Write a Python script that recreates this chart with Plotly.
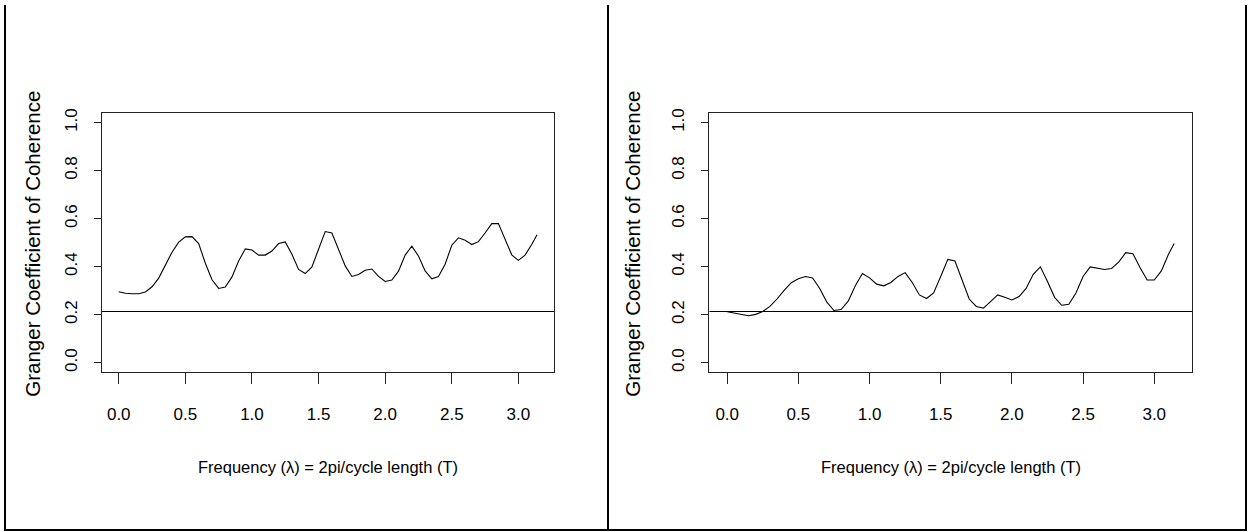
import plotly.graph_objects as go

W, H = 1249, 532

freq = [0.00, 0.05, 0.10, 0.15, 0.20, 0.25, 0.30, 0.35, 0.40, 0.45,
        0.50, 0.55, 0.60, 0.65, 0.70, 0.75, 0.80, 0.85, 0.90, 0.95,
        1.00, 1.05, 1.10, 1.15, 1.20, 1.25, 1.30, 1.35, 1.40, 1.45,
        1.50, 1.55, 1.60, 1.65, 1.70, 1.75, 1.80, 1.85, 1.90, 1.95,
        2.00, 2.05, 2.10, 2.15, 2.20, 2.25, 2.30, 2.35, 2.40, 2.45,
        2.50, 2.55, 2.60, 2.65, 2.70, 2.75, 2.80, 2.85, 2.90, 2.95,
        3.00, 3.05, 3.10, 3.14]

coh_left = [0.295, 0.289, 0.287, 0.287, 0.294, 0.316, 0.352, 0.403, 0.460, 0.502,
            0.524, 0.525, 0.496, 0.414, 0.345, 0.309, 0.315, 0.357, 0.423, 0.474,
            0.469, 0.448, 0.448, 0.465, 0.496, 0.503, 0.451, 0.388, 0.371, 0.399,
            0.471, 0.546, 0.540, 0.471, 0.403, 0.359, 0.367, 0.385, 0.390, 0.359,
            0.338, 0.344, 0.381, 0.448, 0.485, 0.444, 0.382, 0.349, 0.359, 0.410,
            0.489, 0.520, 0.510, 0.492, 0.504, 0.540, 0.579, 0.579, 0.513, 0.449,
            0.426, 0.448, 0.492, 0.533]

coh_right = [0.212, 0.206, 0.199, 0.195, 0.201, 0.213, 0.234, 0.265, 0.301, 0.333,
             0.349, 0.359, 0.353, 0.309, 0.252, 0.217, 0.221, 0.256, 0.320, 0.371,
             0.353, 0.327, 0.320, 0.334, 0.359, 0.375, 0.334, 0.282, 0.267, 0.290,
             0.359, 0.430, 0.423, 0.341, 0.265, 0.234, 0.227, 0.254, 0.282, 0.272,
             0.261, 0.275, 0.309, 0.368, 0.399, 0.338, 0.272, 0.239, 0.243, 0.290,
             0.359, 0.399, 0.393, 0.388, 0.392, 0.419, 0.458, 0.454, 0.396, 0.344,
             0.344, 0.382, 0.451, 0.496]

threshold = [0.213, 0.213]

x_ticks = [0.0, 0.5, 1.0, 1.5, 2.0, 2.5, 3.0]
x_labels = ["0.0", "0.5", "1.0", "1.5", "2.0", "2.5", "3.0"]
y_ticks = [0.0, 0.2, 0.4, 0.6, 0.8, 1.0]
y_labels = ["0.0", "0.2", "0.4", "0.6", "0.8", "1.0"]

y_title = "Granger Coefficient of Coherence"
x_title = "Frequency (\u03bb) = 2pi/cycle length (T)"

FONT = "Liberation Sans, Arial, Helvetica, sans-serif"

def px(x):
    return x / W

def py(y):
    return 1 - y / H

fig = go.Figure()

panels = [
    dict(x0=102.0, x1=554.0, data=coh_left, xa="x", ya="y", title_x=33, xt_c=328),
    dict(x0=709.3, x1=1192.3, data=coh_right, xa="x2", ya="y2", title_x=633, xt_c=951),
]
ytop, ybot = 109.0, 370.7
XR = [-0.1257, 3.2673]

for i, p in enumerate(panels):
    fig.add_trace(go.Scatter(x=freq, y=p["data"], mode="lines", xaxis=p["xa"], yaxis=p["ya"],
                             line=dict(color="black", width=1.1), showlegend=False,
                             hoverinfo="skip"))
    fig.add_trace(go.Scatter(x=XR, y=threshold, mode="lines", xaxis=p["xa"], yaxis=p["ya"],
                             line=dict(color="black", width=1.1), showlegend=False,
                             hoverinfo="skip"))
    sfx = "" if i == 0 else "2"
    common = dict(showline=True, mirror=True, linecolor="#222", linewidth=1.2,
                  showgrid=False, zeroline=False, ticks="outside", tickcolor="#222",
                  tickwidth=1.2)
    fig.layout["xaxis" + sfx] = dict(
        domain=[px(p["x0"]), px(p["x1"])], range=XR, anchor="y" + sfx,
        tickvals=x_ticks, ticktext=x_labels, ticklen=11, ticklabelstandoff=15,
        tickfont=dict(family=FONT, size=17, color="black"), **common)
    fig.layout["yaxis" + sfx] = dict(
        domain=[py(ybot), py(ytop)], range=[-0.04, 1.04], anchor="x" + sfx,
        tickvals=y_ticks, ticktext=y_labels, ticklen=7, tickangle=-90, ticklabelstandoff=10,
        tickfont=dict(family=FONT, size=17, color="black"), **common)
    fig.add_annotation(x=px(p["title_x"]), y=py(241), xref="paper", yref="paper",
                       text=y_title, textangle=-90, showarrow=False,
                       font=dict(family=FONT, size=20.5, color="black"),
                       xanchor="center", yanchor="middle")
    fig.add_annotation(x=px(p["xt_c"]), y=py(466), xref="paper", yref="paper",
                       text=x_title, showarrow=False,
                       font=dict(family=FONT, size=16.5, color="black"),
                       xanchor="center", yanchor="middle")

# frame lines around the two panels (left, middle, right, bottom)
frame = dict(color="black", width=2)
for xv in (5, 608, 1246):
    fig.add_shape(type="line", xref="paper", yref="paper", x0=px(xv), x1=px(xv),
                  y0=py(531), y1=1, line=frame)
fig.add_shape(type="line", xref="paper", yref="paper", x0=px(5), x1=px(1246),
              y0=py(530), y1=py(530), line=frame)

fig.update_layout(width=W, height=H, margin=dict(l=0, r=0, t=0, b=0),
                  paper_bgcolor="white", plot_bgcolor="white", showlegend=False)

fig.write_html("out.html", config={"displayModeBar": False},
               post_script="document.body.style.margin='0';document.body.style.overflow='hidden';")
